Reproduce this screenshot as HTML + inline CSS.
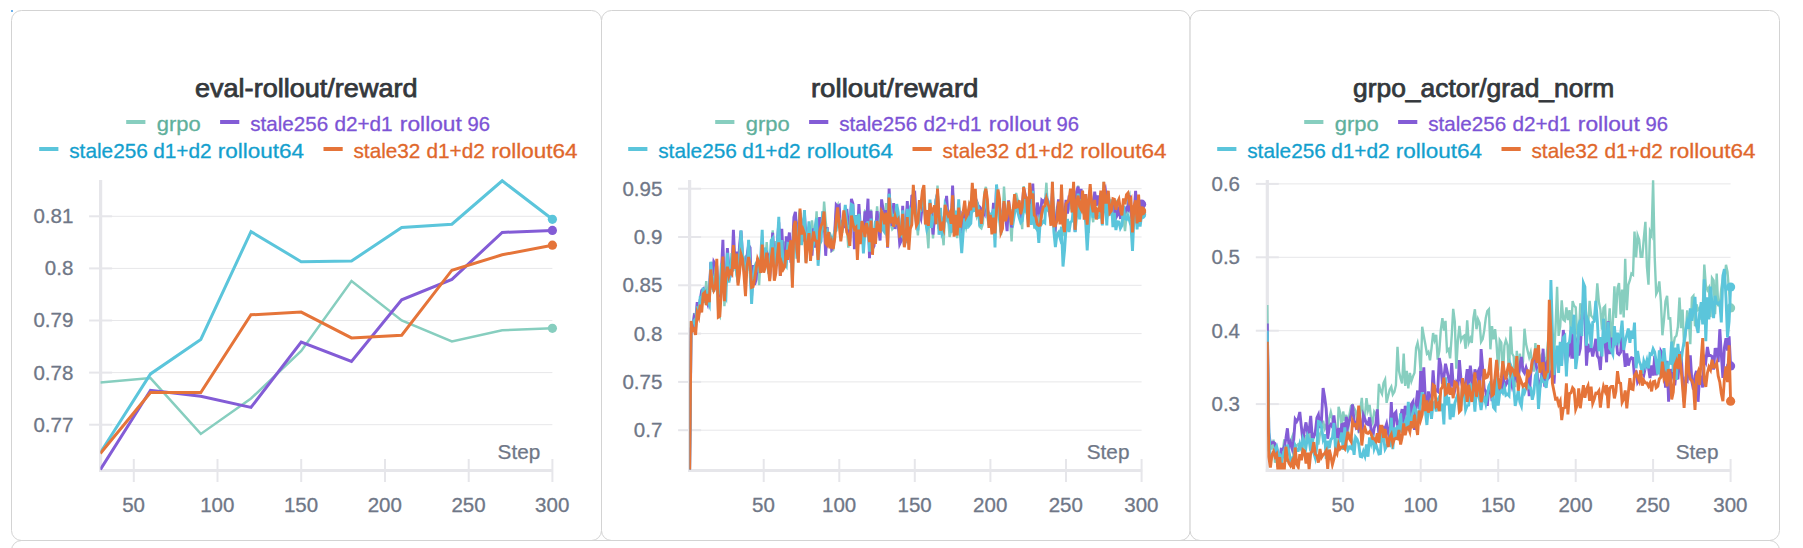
<!DOCTYPE html>
<html lang="en"><head><meta charset="utf-8"><title>Charts</title>
<style>html,body{margin:0;padding:0;background:#fff;}body{width:1803px;height:548px;overflow:hidden;}svg{display:block;}.tt{font:24.9px "Liberation Sans", sans-serif;fill:#34383c;stroke:#34383c;stroke-width:0.75px;}.lg{font:20.8px "Liberation Sans", sans-serif;stroke-width:0.3px;}.tk{font:20.5px "Liberation Sans", sans-serif;fill:#6f7787;stroke:#6f7787;stroke-width:0.3px;}.st{font:19.6px "Liberation Sans", sans-serif;fill:#6f7787;stroke:#6f7787;stroke-width:0.25px;}</style></head><body>
<svg width="1803" height="548" viewBox="0 0 1803 548">
<defs>
<clipPath id="c1"><rect x="100.4" y="170" width="470" height="300.6"/></clipPath>
<clipPath id="c2"><rect x="689.4" y="170" width="470" height="299.6"/></clipPath>
<clipPath id="c3"><rect x="1267.1" y="170" width="480" height="299.6"/></clipPath>
</defs>
<rect x="11.5" y="10.5" width="590.0" height="530" rx="10" ry="10" fill="#fff" stroke="#d3d3d3" stroke-width="1"/>
<rect x="601.5" y="10.5" width="588.6" height="530" rx="10" ry="10" fill="#fff" stroke="#d3d3d3" stroke-width="1"/>
<rect x="1190.1" y="10.5" width="589.4" height="530" rx="10" ry="10" fill="#fff" stroke="#d3d3d3" stroke-width="1"/>
<rect x="11.5" y="540.5" width="1768" height="60" rx="10" ry="10" fill="none" stroke="#d3d3d3" stroke-width="1"/>
<rect x="11" y="10" width="2" height="2" fill="#6cb0ea"/>
<text x="306.3" y="96.8" class="tt" text-anchor="middle" textLength="222.6" lengthAdjust="spacingAndGlyphs">eval-rollout/reward</text>
<rect x="126.2" y="120" width="19.2" height="4" fill="#87cebf"/>
<text y="131.2" class="lg" fill="#5fb09c" stroke="#5fb09c"><tspan x="156.8" textLength="44.0" lengthAdjust="spacingAndGlyphs">grpo</tspan></text>
<rect x="220.1" y="120" width="19.2" height="4" fill="#835cd6"/>
<text y="131.2" class="lg" fill="#7c53d5" stroke="#7c53d5"><tspan x="250.2" textLength="78.0" lengthAdjust="spacingAndGlyphs">stale256</tspan> <tspan x="334.4" textLength="58.2" lengthAdjust="spacingAndGlyphs">d2+d1</tspan> <tspan x="399.8" textLength="62.1" lengthAdjust="spacingAndGlyphs">rollout</tspan> <tspan x="467.6" textLength="22.5" lengthAdjust="spacingAndGlyphs">96</tspan></text>
<rect x="39.2" y="147" width="19.2" height="4" fill="#5bc5db"/>
<text y="157.9" class="lg" fill="#139fce" stroke="#139fce"><tspan x="69.2" textLength="78.7" lengthAdjust="spacingAndGlyphs">stale256</tspan> <tspan x="153.2" textLength="58.5" lengthAdjust="spacingAndGlyphs">d1+d2</tspan> <tspan x="217.8" textLength="86.3" lengthAdjust="spacingAndGlyphs">rollout64</tspan></text>
<rect x="323.5" y="147" width="19.2" height="4" fill="#e57439"/>
<text y="157.9" class="lg" fill="#e0672b" stroke="#e0672b"><tspan x="353.5" textLength="66.9" lengthAdjust="spacingAndGlyphs">stale32</tspan> <tspan x="426.5" textLength="58.3" lengthAdjust="spacingAndGlyphs">d1+d2</tspan> <tspan x="491.2" textLength="86.3" lengthAdjust="spacingAndGlyphs">rollout64</tspan></text>
<line x1="100.6" x2="552.4" y1="216.3" y2="216.3" stroke="#e7e7e9" stroke-width="1"/>
<line x1="100.6" x2="552.4" y1="268.4" y2="268.4" stroke="#e7e7e9" stroke-width="1"/>
<line x1="100.6" x2="552.4" y1="320.5" y2="320.5" stroke="#e7e7e9" stroke-width="1"/>
<line x1="100.6" x2="552.4" y1="372.6" y2="372.6" stroke="#e7e7e9" stroke-width="1"/>
<line x1="100.6" x2="552.4" y1="424.7" y2="424.7" stroke="#e7e7e9" stroke-width="1"/>
<line x1="89.1" x2="112.1" y1="216.3" y2="216.3" stroke="#e6e6ea" stroke-width="2"/>
<text x="73.3" y="223.2" class="tk" text-anchor="end">0.81</text>
<line x1="89.1" x2="112.1" y1="268.4" y2="268.4" stroke="#e6e6ea" stroke-width="2"/>
<text x="73.3" y="275.3" class="tk" text-anchor="end">0.8</text>
<line x1="89.1" x2="112.1" y1="320.5" y2="320.5" stroke="#e6e6ea" stroke-width="2"/>
<text x="73.3" y="327.4" class="tk" text-anchor="end">0.79</text>
<line x1="89.1" x2="112.1" y1="372.6" y2="372.6" stroke="#e6e6ea" stroke-width="2"/>
<text x="73.3" y="379.5" class="tk" text-anchor="end">0.78</text>
<line x1="89.1" x2="112.1" y1="424.7" y2="424.7" stroke="#e6e6ea" stroke-width="2"/>
<text x="73.3" y="431.6" class="tk" text-anchor="end">0.77</text>
<line x1="133.8" x2="133.8" y1="459" y2="482" stroke="#e6e6ea" stroke-width="2"/>
<text x="133.6" y="512.3" class="tk" text-anchor="middle">50</text>
<line x1="217.5" x2="217.5" y1="459" y2="482" stroke="#e6e6ea" stroke-width="2"/>
<text x="217.3" y="512.3" class="tk" text-anchor="middle">100</text>
<line x1="301.2" x2="301.2" y1="459" y2="482" stroke="#e6e6ea" stroke-width="2"/>
<text x="301.0" y="512.3" class="tk" text-anchor="middle">150</text>
<line x1="385.0" x2="385.0" y1="459" y2="482" stroke="#e6e6ea" stroke-width="2"/>
<text x="384.8" y="512.3" class="tk" text-anchor="middle">200</text>
<line x1="468.7" x2="468.7" y1="459" y2="482" stroke="#e6e6ea" stroke-width="2"/>
<text x="468.5" y="512.3" class="tk" text-anchor="middle">250</text>
<line x1="552.4" x2="552.4" y1="459" y2="482" stroke="#e6e6ea" stroke-width="2"/>
<text x="552.2" y="512.3" class="tk" text-anchor="middle">300</text>
<line x1="100.6" x2="100.6" y1="180" y2="472.0" stroke="#e6e6ea" stroke-width="3.2"/>
<line x1="99.0" x2="553.0" y1="470.5" y2="470.5" stroke="#e6e6ea" stroke-width="3.2"/>
<text x="497.6" y="458.5" class="st" textLength="42.6" lengthAdjust="spacingAndGlyphs">Step</text>
<polyline points="100.3,382.4 150.5,378.1 200.8,433.9 251,398.5 301.2,350.9 351.5,281 401.7,320.5 451.9,341.5 502.2,330.3 552.4,328.3" fill="none" stroke="#87cebf" stroke-width="2.5" stroke-linejoin="miter" stroke-miterlimit="5" clip-path="url(#c1)"/>
<circle cx="552.4" cy="328.3" r="4.6" fill="#87cebf"/>
<polyline points="100.3,469.7 150.5,390.3 200.8,396.2 251,407.4 301.2,342 351.5,361.4 401.7,299.8 451.9,279.4 502.2,232.4 552.4,230.4" fill="none" stroke="#835cd6" stroke-width="3.0" stroke-linejoin="miter" stroke-miterlimit="5" clip-path="url(#c1)"/>
<circle cx="552.4" cy="230.4" r="4.6" fill="#835cd6"/>
<polyline points="100.3,452.7 150.5,373.9 200.8,339.4 251,231.6 301.2,261.7 351.5,261 401.7,227.5 451.9,224.2 502.2,180.8 552.4,219.3" fill="none" stroke="#5bc5db" stroke-width="3.0" stroke-linejoin="miter" stroke-miterlimit="5" clip-path="url(#c1)"/>
<circle cx="552.4" cy="219.3" r="4.6" fill="#5bc5db"/>
<polyline points="100.3,453.6 150.5,392.6 200.8,392.6 251,314.8 301.2,312.1 351.5,337.9 401.7,335.2 451.9,270.2 502.2,254.8 552.4,245.2" fill="none" stroke="#e57439" stroke-width="3.0" stroke-linejoin="miter" stroke-miterlimit="5" clip-path="url(#c1)"/>
<circle cx="552.4" cy="245.2" r="4.6" fill="#e57439"/>
<text x="894.7" y="96.8" class="tt" text-anchor="middle" textLength="167.6" lengthAdjust="spacingAndGlyphs">rollout/reward</text>
<rect x="715.2" y="120" width="19.2" height="4" fill="#87cebf"/>
<text y="131.2" class="lg" fill="#5fb09c" stroke="#5fb09c"><tspan x="745.8" textLength="44.0" lengthAdjust="spacingAndGlyphs">grpo</tspan></text>
<rect x="809.1" y="120" width="19.2" height="4" fill="#835cd6"/>
<text y="131.2" class="lg" fill="#7c53d5" stroke="#7c53d5"><tspan x="839.2" textLength="78.0" lengthAdjust="spacingAndGlyphs">stale256</tspan> <tspan x="923.4" textLength="58.2" lengthAdjust="spacingAndGlyphs">d2+d1</tspan> <tspan x="988.8" textLength="62.1" lengthAdjust="spacingAndGlyphs">rollout</tspan> <tspan x="1056.6" textLength="22.5" lengthAdjust="spacingAndGlyphs">96</tspan></text>
<rect x="628.2" y="147" width="19.2" height="4" fill="#5bc5db"/>
<text y="157.9" class="lg" fill="#139fce" stroke="#139fce"><tspan x="658.2" textLength="78.7" lengthAdjust="spacingAndGlyphs">stale256</tspan> <tspan x="742.2" textLength="58.5" lengthAdjust="spacingAndGlyphs">d1+d2</tspan> <tspan x="806.8" textLength="86.3" lengthAdjust="spacingAndGlyphs">rollout64</tspan></text>
<rect x="912.5" y="147" width="19.2" height="4" fill="#e57439"/>
<text y="157.9" class="lg" fill="#e0672b" stroke="#e0672b"><tspan x="942.5" textLength="66.9" lengthAdjust="spacingAndGlyphs">stale32</tspan> <tspan x="1015.5" textLength="58.3" lengthAdjust="spacingAndGlyphs">d1+d2</tspan> <tspan x="1080.2" textLength="86.3" lengthAdjust="spacingAndGlyphs">rollout64</tspan></text>
<line x1="689.6" x2="1141.6" y1="188.7" y2="188.7" stroke="#e7e7e9" stroke-width="1"/>
<line x1="689.6" x2="1141.6" y1="237.0" y2="237.0" stroke="#e7e7e9" stroke-width="1"/>
<line x1="689.6" x2="1141.6" y1="285.3" y2="285.3" stroke="#e7e7e9" stroke-width="1"/>
<line x1="689.6" x2="1141.6" y1="333.6" y2="333.6" stroke="#e7e7e9" stroke-width="1"/>
<line x1="689.6" x2="1141.6" y1="381.9" y2="381.9" stroke="#e7e7e9" stroke-width="1"/>
<line x1="689.6" x2="1141.6" y1="430.2" y2="430.2" stroke="#e7e7e9" stroke-width="1"/>
<line x1="678.1" x2="701.1" y1="188.7" y2="188.7" stroke="#e6e6ea" stroke-width="2"/>
<text x="662.3" y="195.6" class="tk" text-anchor="end">0.95</text>
<line x1="678.1" x2="701.1" y1="237.0" y2="237.0" stroke="#e6e6ea" stroke-width="2"/>
<text x="662.3" y="243.9" class="tk" text-anchor="end">0.9</text>
<line x1="678.1" x2="701.1" y1="285.3" y2="285.3" stroke="#e6e6ea" stroke-width="2"/>
<text x="662.3" y="292.2" class="tk" text-anchor="end">0.85</text>
<line x1="678.1" x2="701.1" y1="333.6" y2="333.6" stroke="#e6e6ea" stroke-width="2"/>
<text x="662.3" y="340.5" class="tk" text-anchor="end">0.8</text>
<line x1="678.1" x2="701.1" y1="381.9" y2="381.9" stroke="#e6e6ea" stroke-width="2"/>
<text x="662.3" y="388.8" class="tk" text-anchor="end">0.75</text>
<line x1="678.1" x2="701.1" y1="430.2" y2="430.2" stroke="#e6e6ea" stroke-width="2"/>
<text x="662.3" y="437.1" class="tk" text-anchor="end">0.7</text>
<line x1="763.7" x2="763.7" y1="459" y2="482" stroke="#e6e6ea" stroke-width="2"/>
<text x="763.5" y="512.3" class="tk" text-anchor="middle">50</text>
<line x1="839.3" x2="839.3" y1="459" y2="482" stroke="#e6e6ea" stroke-width="2"/>
<text x="839.1" y="512.3" class="tk" text-anchor="middle">100</text>
<line x1="914.8" x2="914.8" y1="459" y2="482" stroke="#e6e6ea" stroke-width="2"/>
<text x="914.6" y="512.3" class="tk" text-anchor="middle">150</text>
<line x1="990.4" x2="990.4" y1="459" y2="482" stroke="#e6e6ea" stroke-width="2"/>
<text x="990.2" y="512.3" class="tk" text-anchor="middle">200</text>
<line x1="1066.0" x2="1066.0" y1="459" y2="482" stroke="#e6e6ea" stroke-width="2"/>
<text x="1065.8" y="512.3" class="tk" text-anchor="middle">250</text>
<line x1="1141.6" x2="1141.6" y1="459" y2="482" stroke="#e6e6ea" stroke-width="2"/>
<text x="1141.4" y="512.3" class="tk" text-anchor="middle">300</text>
<line x1="689.6" x2="689.6" y1="180" y2="472.0" stroke="#e6e6ea" stroke-width="3.2"/>
<line x1="688.0" x2="1142.2" y1="470.5" y2="470.5" stroke="#e6e6ea" stroke-width="3.2"/>
<text x="1086.8" y="458.5" class="st" textLength="42.6" lengthAdjust="spacingAndGlyphs">Step</text>
<polyline points="689.6,473.7 691.1,329.5 692.6,329.2 694.1,313.1 695.6,322.6 697.2,315.1 698.7,316.8 700.2,298.3 701.7,295.9 703.2,294.4 704.7,302.6 706.2,281 707.7,296.1 709.3,288.2 710.8,263 712.3,289.8 713.8,284.2 715.3,261.8 716.8,277.5 718.3,314.7 719.8,316.8 721.3,271.6 722.9,248.8 724.4,306.1 725.9,285 727.4,267.3 728.9,271.5 730.4,262.8 731.9,271 733.4,270.2 735,256.8 736.5,274.8 738,281.2 739.5,268.1 741,239 742.5,261 744,264 745.5,256.8 747,255.5 748.6,247.5 750.1,277.9 751.6,292.6 753.1,266.6 754.6,278.7 756.1,271.5 757.6,257.9 759.1,285.3 760.6,258.5 762.2,250 763.7,251.5 765.2,264.1 766.7,242.2 768.2,264.6 769.7,265.9 771.2,255.5 772.7,230.3 774.3,275.2 775.8,241.1 777.3,248.2 778.8,227.1 780.3,274.8 781.8,241 783.3,260 784.8,241.6 786.3,246.9 787.9,242.4 789.4,239.6 790.9,249.3 792.4,261.1 793.9,227.1 795.4,226.8 796.9,250.8 798.4,249 800,216.7 801.5,218.5 803,226.6 804.5,217 806,243.2 807.5,243 809,235.1 810.5,245.3 812,220.3 813.6,236.9 815.1,235.6 816.6,211.4 818.1,251.7 819.6,228.3 821.1,222.7 822.6,232.1 824.1,201.6 825.7,221.3 827.2,234.7 828.7,241.6 830.2,238 831.7,250.9 833.2,250 834.7,232.5 836.2,209 837.7,205.5 839.3,226.5 840.8,219.9 842.3,232.9 843.8,213.4 845.3,213.5 846.8,227.4 848.3,247.6 849.8,240.5 851.4,200.1 852.9,211.5 854.4,225.6 855.9,227.5 857.4,237.2 858.9,219.4 860.4,235 861.9,242.9 863.4,226.7 865,211.2 866.5,212.3 868,227 869.5,250.7 871,209.6 872.5,230.8 874,237.3 875.5,230.4 877.1,206.3 878.6,226.5 880.1,215.5 881.6,218.5 883.1,227.7 884.6,218.8 886.1,203.2 887.6,226.5 889.1,197 890.7,224 892.2,229.3 893.7,227.5 895.2,225.4 896.7,210 898.2,220.7 899.7,225.2 901.2,233 902.7,212.8 904.3,236.3 905.8,227.7 907.3,202.4 908.8,240.8 910.3,217.4 911.8,220.4 913.3,186.2 914.8,195.8 916.4,220.2 917.9,235.4 919.4,215.4 920.9,205.8 922.4,201.8 923.9,186.8 925.4,217.8 926.9,229.4 928.4,248.3 930,204.3 931.5,209.2 933,238.5 934.5,215.6 936,221.1 937.5,185.6 939,218.1 940.5,216.9 942.1,230.3 943.6,245.3 945.1,210.5 946.6,220 948.1,217.9 949.6,237 951.1,231.3 952.6,189.2 954.1,211.5 955.7,230.1 957.2,238.1 958.7,203.6 960.2,216 961.7,244.3 963.2,219.6 964.7,220.5 966.2,227.8 967.8,221.1 969.3,204.2 970.8,207.1 972.3,188.3 973.8,209.2 975.3,206.1 976.8,216 978.3,211.2 979.8,226.9 981.4,228.4 982.9,223.6 984.4,192.2 985.9,186.8 987.4,205.6 988.9,222.9 990.4,216.6 991.9,217.1 993.5,207.6 995,240 996.5,210.4 998,210.5 999.5,209.4 1001,235.1 1002.5,220.9 1004,186.5 1005.5,210.7 1007.1,218.5 1008.6,202.6 1010.1,219.4 1011.6,241.4 1013.1,208.1 1014.6,208.3 1016.1,192.9 1017.6,199.4 1019.2,201.5 1020.7,213.9 1022.2,229.2 1023.7,186 1025.2,211.2 1026.7,210.1 1028.2,226.6 1029.7,194.1 1031.2,203.1 1032.8,187.3 1034.3,228.7 1035.8,217.5 1037.3,231.3 1038.8,219 1040.3,210.5 1041.8,215.8 1043.3,209.7 1044.8,205.9 1046.4,182.7 1047.9,211.1 1049.4,211.5 1050.9,224.1 1052.4,181.9 1053.9,210.3 1055.4,234.1 1056.9,207.2 1058.5,205.5 1060,218.4 1061.5,197.3 1063,230.2 1064.5,235.9 1066,215.8 1067.5,201.3 1069,208.4 1070.5,202.9 1072.1,213 1073.6,194 1075.1,222.9 1076.6,208.4 1078.1,185.6 1079.6,205.2 1081.1,206.1 1082.6,200.8 1084.2,215 1085.7,219.6 1087.2,224.5 1088.7,233 1090.2,198.8 1091.7,212.8 1093.2,222.2 1094.7,203.2 1096.2,197.6 1097.8,201.7 1099.3,210 1100.8,205.7 1102.3,215.1 1103.8,181.9 1105.3,203.4 1106.8,219.2 1108.3,209.6 1109.9,214.8 1111.4,214.3 1112.9,204.1 1114.4,207.1 1115.9,213.1 1117.4,199.9 1118.9,207.3 1120.4,208.7 1121.9,207.5 1123.5,217 1125,231.1 1126.5,215.7 1128,198.6 1129.5,195.2 1131,218.5 1132.5,221 1134,209.2 1135.6,207 1137.1,219.8 1138.6,201.6 1140.1,223.5 1141.6,212.8" fill="none" stroke="#87cebf" stroke-width="2.4" stroke-linejoin="miter" stroke-miterlimit="5" clip-path="url(#c2)"/>
<circle cx="1141.6" cy="212.8" r="4.6" fill="#87cebf"/>
<polyline points="689.6,473.7 691.1,328.6 692.6,328 694.1,317.4 695.6,320.5 697.2,302.1 698.7,314.3 700.2,300 701.7,290.5 703.2,289 704.7,300.5 706.2,299.2 707.7,303.8 709.3,294.7 710.8,262.3 712.3,275.8 713.8,261.7 715.3,264.4 716.8,266.3 718.3,292.1 719.8,297.2 721.3,275.7 722.9,239.8 724.4,299.8 725.9,284 727.4,248.1 728.9,268.3 730.4,275.7 731.9,271.3 733.4,229.7 735,263.5 736.5,251.5 738,271 739.5,246.4 741,230.8 742.5,255.7 744,268.1 745.5,277.2 747,256 748.6,245.2 750.1,247.6 751.6,296.1 753.1,265.1 754.6,284.9 756.1,279.4 757.6,258.8 759.1,272.1 760.6,265.7 762.2,261.5 763.7,253.6 765.2,259.4 766.7,252.6 768.2,255.4 769.7,278.5 771.2,261.2 772.7,232.7 774.3,267.5 775.8,259 777.3,243.5 778.8,222.4 780.3,275.9 781.8,228.8 783.3,259.4 784.8,266.1 786.3,236.3 787.9,244 789.4,232.5 790.9,262.8 792.4,250.5 793.9,217.2 795.4,211.8 796.9,232.6 798.4,229.9 800,212.9 801.5,229.2 803,241.5 804.5,213.8 806,238.7 807.5,244.3 809,232.9 810.5,243.2 812,255.6 813.6,228.4 815.1,247.7 816.6,224.9 818.1,241.7 819.6,217.1 821.1,232.7 822.6,215.3 824.1,220 825.7,255.8 827.2,227.2 828.7,246.2 830.2,236.1 831.7,249.2 833.2,247 834.7,232.8 836.2,205 837.7,206.8 839.3,205.5 840.8,233.2 842.3,226.2 843.8,218.5 845.3,228.1 846.8,209 848.3,223.9 849.8,241.5 851.4,198.9 852.9,203.6 854.4,249.2 855.9,215.1 857.4,237 858.9,204.1 860.4,227.7 861.9,225.3 863.4,236.1 865,211.3 866.5,222.5 868,198.7 869.5,258.2 871,210.7 872.5,248.9 874,246.1 875.5,230.8 877.1,211 878.6,229 880.1,240.5 881.6,199.4 883.1,209.3 884.6,228.1 886.1,210 887.6,247.7 889.1,188.5 890.7,217.8 892.2,225.7 893.7,203 895.2,229 896.7,212.2 898.2,224.4 899.7,244 901.2,240.6 902.7,205.7 904.3,245.3 905.8,233.4 907.3,201.1 908.8,236.1 910.3,223.6 911.8,195.9 913.3,195.3 914.8,193.7 916.4,224.6 917.9,216.3 919.4,214.1 920.9,218.4 922.4,204.4 923.9,204.1 925.4,215.4 926.9,225.5 928.4,224.3 930,202.5 931.5,213.4 933,234.5 934.5,217.8 936,200.1 937.5,193.8 939,227.1 940.5,226.7 942.1,226.8 943.6,219.1 945.1,212.8 946.6,195.8 948.1,218.5 949.6,216.1 951.1,227 952.6,185.6 954.1,221.5 955.7,230.4 957.2,217.7 958.7,211.3 960.2,211.9 961.7,233.1 963.2,216.9 964.7,211.6 966.2,220.2 967.8,220 969.3,211.3 970.8,203.6 972.3,201.3 973.8,207 975.3,207.1 976.8,201.7 978.3,205.9 979.8,207.1 981.4,209.6 982.9,210.1 984.4,213.2 985.9,191.4 987.4,209.4 988.9,215.6 990.4,220.8 991.9,225 993.5,202.8 995,221 996.5,186.7 998,208.7 999.5,206.1 1001,224.9 1002.5,214.8 1004,203.2 1005.5,215.4 1007.1,231.1 1008.6,200.4 1010.1,212.9 1011.6,227.4 1013.1,218.4 1014.6,201.9 1016.1,207.7 1017.6,207.3 1019.2,207.3 1020.7,219.3 1022.2,207.4 1023.7,188.2 1025.2,194.6 1026.7,202.4 1028.2,219 1029.7,196 1031.2,213.9 1032.8,183.6 1034.3,218.1 1035.8,223 1037.3,202.5 1038.8,210.9 1040.3,217.2 1041.8,200.3 1043.3,201.8 1044.8,200 1046.4,197.3 1047.9,201.2 1049.4,210.9 1050.9,220.7 1052.4,193.1 1053.9,222.9 1055.4,227 1056.9,212.8 1058.5,199.3 1060,216.4 1061.5,198.2 1063,224.1 1064.5,218.7 1066,199.8 1067.5,213.7 1069,196.8 1070.5,196.7 1072.1,199.4 1073.6,202.7 1075.1,231.6 1076.6,191.8 1078.1,186.6 1079.6,201.2 1081.1,188.8 1082.6,203.7 1084.2,201.6 1085.7,194.2 1087.2,222.9 1088.7,213.2 1090.2,190.1 1091.7,205.8 1093.2,209.3 1094.7,191.6 1096.2,205.7 1097.8,195.6 1099.3,204.4 1100.8,193.1 1102.3,205.4 1103.8,192.9 1105.3,189.2 1106.8,201.4 1108.3,206.1 1109.9,206.3 1111.4,212.7 1112.9,212.5 1114.4,205.1 1115.9,217.9 1117.4,214.8 1118.9,206.8 1120.4,217.6 1121.9,217.4 1123.5,211.2 1125,212.5 1126.5,208 1128,209.7 1129.5,195.3 1131,211.2 1132.5,219.9 1134,213.6 1135.6,190.9 1137.1,216.8 1138.6,204.2 1140.1,204.1 1141.6,204.2" fill="none" stroke="#835cd6" stroke-width="2.9" stroke-linejoin="miter" stroke-miterlimit="5" clip-path="url(#c2)"/>
<circle cx="1141.6" cy="204.2" r="4.6" fill="#835cd6"/>
<polyline points="689.6,473.7 691.1,323 692.6,322.7 694.1,320.8 695.6,327.8 697.2,306.3 698.7,312.3 700.2,297.5 701.7,297.5 703.2,287.8 704.7,297.9 706.2,293.4 707.7,301 709.3,304.9 710.8,261.7 712.3,280.9 713.8,291.9 715.3,274.3 716.8,273 718.3,294.4 719.8,289.2 721.3,265.1 722.9,265.5 724.4,294.4 725.9,297.6 727.4,252.7 728.9,282.6 730.4,273.3 731.9,253.2 733.4,268.1 735,261.3 736.5,269.6 738,282.6 739.5,259.7 741,230.3 742.5,254.4 744,260.6 745.5,269.8 747,269.7 748.6,239.9 750.1,265.5 751.6,304 753.1,277.4 754.6,267.2 756.1,263.2 757.6,263.6 759.1,272.5 760.6,259.5 762.2,229.9 763.7,268.9 765.2,247.5 766.7,255.6 768.2,269.6 769.7,266.5 771.2,240.5 772.7,238.3 774.3,266 775.8,249.2 777.3,244.5 778.8,216.9 780.3,262 781.8,240.2 783.3,268.3 784.8,262.8 786.3,265.5 787.9,243.5 789.4,244 790.9,246.6 792.4,281.4 793.9,233.5 795.4,226.4 796.9,258.6 798.4,236.2 800,210.3 801.5,245.2 803,231.4 804.5,210.1 806,262.2 807.5,239.9 809,221.4 810.5,234.5 812,249.8 813.6,243.9 815.1,227 816.6,218 818.1,265.8 819.6,244.3 821.1,241.1 822.6,211.2 824.1,226.9 825.7,232.1 827.2,230.2 828.7,237.6 830.2,235.2 831.7,239.7 833.2,238.2 834.7,231.4 836.2,230.5 837.7,216.7 839.3,218.7 840.8,230.6 842.3,229.3 843.8,218.1 845.3,204.8 846.8,225.2 848.3,227.6 849.8,228.4 851.4,204.5 852.9,205.4 854.4,231.4 855.9,215.2 857.4,249.2 858.9,213.8 860.4,226.9 861.9,224.8 863.4,253.3 865,230.4 866.5,231.3 868,221.2 869.5,251.6 871,218.5 872.5,240.5 874,241.5 875.5,220.8 877.1,227.4 878.6,227.4 880.1,219.3 881.6,210.1 883.1,229.9 884.6,232.2 886.1,219.8 887.6,232.5 889.1,193.7 890.7,208.1 892.2,217.3 893.7,215.7 895.2,220.2 896.7,204.1 898.2,212.1 899.7,233 901.2,235 902.7,210.4 904.3,243.3 905.8,241.9 907.3,208.9 908.8,241.3 910.3,211 911.8,214.7 913.3,197.8 914.8,205.4 916.4,222.6 917.9,230.3 919.4,211.7 920.9,210.6 922.4,197.2 923.9,200.6 925.4,219.9 926.9,229.7 928.4,226.1 930,199.5 931.5,227.9 933,218 934.5,215.4 936,200.2 937.5,193.4 939,234.8 940.5,207.8 942.1,233.7 943.6,230.9 945.1,204.8 946.6,208.9 948.1,220.5 949.6,224.8 951.1,232.7 952.6,198.5 954.1,232.8 955.7,210.6 957.2,224.6 958.7,199.4 960.2,232.4 961.7,253.2 963.2,232.1 964.7,218.3 966.2,228.9 967.8,213.2 969.3,225.4 970.8,223.4 972.3,202 973.8,211.8 975.3,199.9 976.8,202.2 978.3,207.6 979.8,226.5 981.4,221.7 982.9,213 984.4,205.2 985.9,191.1 987.4,215 988.9,225.2 990.4,212.6 991.9,222.4 993.5,208.9 995,247.5 996.5,184.5 998,200.2 999.5,219.9 1001,232.3 1002.5,212.2 1004,209 1005.5,216.3 1007.1,211.4 1008.6,207.8 1010.1,209.9 1011.6,218.6 1013.1,222.8 1014.6,213.2 1016.1,198.3 1017.6,211.3 1019.2,217.7 1020.7,222.6 1022.2,220.8 1023.7,209.1 1025.2,199.1 1026.7,212.7 1028.2,217 1029.7,203.9 1031.2,224.9 1032.8,190.8 1034.3,225.2 1035.8,227.6 1037.3,222.6 1038.8,243 1040.3,219.8 1041.8,223.6 1043.3,221.4 1044.8,222.7 1046.4,193.3 1047.9,210.5 1049.4,205.8 1050.9,215.4 1052.4,200.6 1053.9,231.8 1055.4,247.2 1056.9,234.7 1058.5,232.5 1060,237.7 1061.5,226.8 1063,266.5 1064.5,250.9 1066,228.3 1067.5,219 1069,232.1 1070.5,222.5 1072.1,220.8 1073.6,204.9 1075.1,232.2 1076.6,215.7 1078.1,193.5 1079.6,219.5 1081.1,200.5 1082.6,200.5 1084.2,210.8 1085.7,222.8 1087.2,250.5 1088.7,223.9 1090.2,205.1 1091.7,207.4 1093.2,217.8 1094.7,212.1 1096.2,214.5 1097.8,217.9 1099.3,217.2 1100.8,207.3 1102.3,225.3 1103.8,203.2 1105.3,198.3 1106.8,225.5 1108.3,194.8 1109.9,205 1111.4,199.5 1112.9,227.1 1114.4,212.9 1115.9,230 1117.4,221.8 1118.9,222.1 1120.4,228.2 1121.9,225.5 1123.5,205.6 1125,218.7 1126.5,219.5 1128,215.8 1129.5,220.5 1131,225.9 1132.5,250.9 1134,215.9 1135.6,207.3 1137.1,229.5 1138.6,204.2 1140.1,226.5 1141.6,214.8" fill="none" stroke="#5bc5db" stroke-width="2.9" stroke-linejoin="miter" stroke-miterlimit="5" clip-path="url(#c2)"/>
<circle cx="1141.6" cy="214.8" r="4.6" fill="#5bc5db"/>
<polyline points="689.6,473.7 691.1,320.9 692.6,330.7 694.1,329.1 695.6,334.8 697.2,312.9 698.7,317 700.2,304.7 701.7,312.4 703.2,293.8 704.7,292.3 706.2,305.2 707.7,293.9 709.3,302.1 710.8,269.5 712.3,284.4 713.8,290.5 715.3,287.7 716.8,258.7 718.3,317.1 719.8,316.1 721.3,290.4 722.9,256.5 724.4,301.1 725.9,275.9 727.4,266.7 728.9,276 730.4,271.5 731.9,273.8 733.4,245.1 735,268.9 736.5,253.5 738,285.5 739.5,273.6 741,254.2 742.5,258.6 744,275 745.5,296.1 747,266.3 748.6,257 750.1,265.1 751.6,287.3 753.1,286.7 754.6,279 756.1,269.3 757.6,258.8 759.1,262.4 760.6,273 762.2,244.6 763.7,272.6 765.2,267.4 766.7,252.6 768.2,266.8 769.7,281.2 771.2,258.5 772.7,247.5 774.3,280.8 775.8,273.5 777.3,256.8 778.8,242.3 780.3,275.7 781.8,264 783.3,269.2 784.8,266.5 786.3,249.9 787.9,259.8 789.4,247.4 790.9,240.4 792.4,287.6 793.9,226.4 795.4,221 796.9,249 798.4,262.6 800,208.6 801.5,234.4 803,229.4 804.5,233.6 806,263.3 807.5,243.7 809,233.2 810.5,260.8 812,243 813.6,231.4 815.1,240.3 816.6,241.2 818.1,259.9 819.6,231.5 821.1,225.9 822.6,222.7 824.1,211.5 825.7,243.3 827.2,245.2 828.7,232 830.2,248.3 831.7,242 833.2,249 834.7,239 836.2,219.6 837.7,207.5 839.3,225.4 840.8,241.4 842.3,229.7 843.8,210.4 845.3,219.8 846.8,232.3 848.3,235.5 849.8,245.9 851.4,215.6 852.9,223.7 854.4,229.1 855.9,227.5 857.4,260 858.9,229.6 860.4,244.2 861.9,221 863.4,226.8 865,237 866.5,223.1 868,230.4 869.5,242.1 871,220.5 872.5,254.8 874,228 875.5,243.8 877.1,221 878.6,230.2 880.1,231.1 881.6,211.6 883.1,214.6 884.6,224.3 886.1,212.7 887.6,246.9 889.1,197.6 890.7,223.2 892.2,217 893.7,226.8 895.2,216.5 896.7,221.9 898.2,219.5 899.7,235.3 901.2,233.7 902.7,213.8 904.3,247.2 905.8,238.7 907.3,217.1 908.8,249.8 910.3,228.8 911.8,224.6 913.3,184.9 914.8,209.6 916.4,225.5 917.9,222.6 919.4,200.2 920.9,205 922.4,190.7 923.9,185 925.4,224.5 926.9,210.2 928.4,225.8 930,203.2 931.5,212.1 933,211 934.5,205.3 936,224.3 937.5,188.6 939,214.4 940.5,230.7 942.1,225 943.6,229.1 945.1,204.9 946.6,212.1 948.1,215.6 949.6,212.8 951.1,223.7 952.6,195.3 954.1,236.6 955.7,214.9 957.2,235.4 958.7,207.5 960.2,227.4 961.7,218.2 963.2,212 964.7,200.6 966.2,217.1 967.8,214.1 969.3,205.5 970.8,210.2 972.3,182.8 973.8,207.3 975.3,188.9 976.8,215.4 978.3,215.1 979.8,209.6 981.4,223.8 982.9,212.1 984.4,195.8 985.9,188.6 987.4,199.5 988.9,227.9 990.4,214.8 991.9,234.4 993.5,217.6 995,233.4 996.5,210.8 998,189.6 999.5,198.9 1001,232.5 1002.5,228.8 1004,201 1005.5,221.1 1007.1,216 1008.6,201.4 1010.1,212.9 1011.6,224.8 1013.1,210 1014.6,194.1 1016.1,207.3 1017.6,206.8 1019.2,200.4 1020.7,214.1 1022.2,207.3 1023.7,187.2 1025.2,197.2 1026.7,197.7 1028.2,227.1 1029.7,182.9 1031.2,198.7 1032.8,193.5 1034.3,215.1 1035.8,216.9 1037.3,224.1 1038.8,225.4 1040.3,225.1 1041.8,213.2 1043.3,206.9 1044.8,205.9 1046.4,198.4 1047.9,203.9 1049.4,207.7 1050.9,225.8 1052.4,181.9 1053.9,225.8 1055.4,225.6 1056.9,220.7 1058.5,201.7 1060,224.5 1061.5,184.6 1063,223.9 1064.5,232.1 1066,203.7 1067.5,201.8 1069,199.8 1070.5,188.7 1072.1,212.4 1073.6,181.9 1075.1,229.8 1076.6,202 1078.1,195.7 1079.6,206.6 1081.1,209.4 1082.6,190.5 1084.2,219.6 1085.7,194.3 1087.2,224.6 1088.7,201.6 1090.2,184 1091.7,204.6 1093.2,212.3 1094.7,199.8 1096.2,219.4 1097.8,209.3 1099.3,210.2 1100.8,190.6 1102.3,223.9 1103.8,181.9 1105.3,202.4 1106.8,202.4 1108.3,190.8 1109.9,212.7 1111.4,210.6 1112.9,198.7 1114.4,199.3 1115.9,209.7 1117.4,202.4 1118.9,199.2 1120.4,209.1 1121.9,215.4 1123.5,198.4 1125,204.3 1126.5,194.6 1128,192.9 1129.5,201.9 1131,199.2 1132.5,232.4 1134,206.6 1135.6,200.4 1137.1,223.3 1138.6,194.7 1140.1,221.9 1141.6,210.9" fill="none" stroke="#e57439" stroke-width="2.9" stroke-linejoin="miter" stroke-miterlimit="5" clip-path="url(#c2)"/>
<circle cx="1141.6" cy="210.9" r="4.6" fill="#e57439"/>
<text x="1483.6" y="96.8" class="tt" text-anchor="middle" textLength="261.2" lengthAdjust="spacingAndGlyphs">grpo_actor/grad_norm</text>
<rect x="1304.2" y="120" width="19.2" height="4" fill="#87cebf"/>
<text y="131.2" class="lg" fill="#5fb09c" stroke="#5fb09c"><tspan x="1334.8" textLength="44.0" lengthAdjust="spacingAndGlyphs">grpo</tspan></text>
<rect x="1398.1" y="120" width="19.2" height="4" fill="#835cd6"/>
<text y="131.2" class="lg" fill="#7c53d5" stroke="#7c53d5"><tspan x="1428.2" textLength="78.0" lengthAdjust="spacingAndGlyphs">stale256</tspan> <tspan x="1512.4" textLength="58.2" lengthAdjust="spacingAndGlyphs">d2+d1</tspan> <tspan x="1577.8" textLength="62.1" lengthAdjust="spacingAndGlyphs">rollout</tspan> <tspan x="1645.6" textLength="22.5" lengthAdjust="spacingAndGlyphs">96</tspan></text>
<rect x="1217.2" y="147" width="19.2" height="4" fill="#5bc5db"/>
<text y="157.9" class="lg" fill="#139fce" stroke="#139fce"><tspan x="1247.2" textLength="78.7" lengthAdjust="spacingAndGlyphs">stale256</tspan> <tspan x="1331.2" textLength="58.5" lengthAdjust="spacingAndGlyphs">d1+d2</tspan> <tspan x="1395.8" textLength="86.3" lengthAdjust="spacingAndGlyphs">rollout64</tspan></text>
<rect x="1501.5" y="147" width="19.2" height="4" fill="#e57439"/>
<text y="157.9" class="lg" fill="#e0672b" stroke="#e0672b"><tspan x="1531.5" textLength="66.9" lengthAdjust="spacingAndGlyphs">stale32</tspan> <tspan x="1604.5" textLength="58.3" lengthAdjust="spacingAndGlyphs">d1+d2</tspan> <tspan x="1669.2" textLength="86.3" lengthAdjust="spacingAndGlyphs">rollout64</tspan></text>
<line x1="1267.3" x2="1730.6" y1="183.9" y2="183.9" stroke="#e7e7e9" stroke-width="1"/>
<line x1="1267.3" x2="1730.6" y1="257.3" y2="257.3" stroke="#e7e7e9" stroke-width="1"/>
<line x1="1267.3" x2="1730.6" y1="330.7" y2="330.7" stroke="#e7e7e9" stroke-width="1"/>
<line x1="1267.3" x2="1730.6" y1="404.1" y2="404.1" stroke="#e7e7e9" stroke-width="1"/>
<line x1="1255.8" x2="1278.8" y1="183.9" y2="183.9" stroke="#e6e6ea" stroke-width="2"/>
<text x="1240.0" y="190.8" class="tk" text-anchor="end">0.6</text>
<line x1="1255.8" x2="1278.8" y1="257.3" y2="257.3" stroke="#e6e6ea" stroke-width="2"/>
<text x="1240.0" y="264.2" class="tk" text-anchor="end">0.5</text>
<line x1="1255.8" x2="1278.8" y1="330.7" y2="330.7" stroke="#e6e6ea" stroke-width="2"/>
<text x="1240.0" y="337.6" class="tk" text-anchor="end">0.4</text>
<line x1="1255.8" x2="1278.8" y1="404.1" y2="404.1" stroke="#e6e6ea" stroke-width="2"/>
<text x="1240.0" y="411.0" class="tk" text-anchor="end">0.3</text>
<line x1="1343.2" x2="1343.2" y1="459" y2="482" stroke="#e6e6ea" stroke-width="2"/>
<text x="1343.0" y="512.3" class="tk" text-anchor="middle">50</text>
<line x1="1420.7" x2="1420.7" y1="459" y2="482" stroke="#e6e6ea" stroke-width="2"/>
<text x="1420.5" y="512.3" class="tk" text-anchor="middle">100</text>
<line x1="1498.2" x2="1498.2" y1="459" y2="482" stroke="#e6e6ea" stroke-width="2"/>
<text x="1498.0" y="512.3" class="tk" text-anchor="middle">150</text>
<line x1="1575.7" x2="1575.7" y1="459" y2="482" stroke="#e6e6ea" stroke-width="2"/>
<text x="1575.5" y="512.3" class="tk" text-anchor="middle">200</text>
<line x1="1653.1" x2="1653.1" y1="459" y2="482" stroke="#e6e6ea" stroke-width="2"/>
<text x="1652.9" y="512.3" class="tk" text-anchor="middle">250</text>
<line x1="1730.6" x2="1730.6" y1="459" y2="482" stroke="#e6e6ea" stroke-width="2"/>
<text x="1730.4" y="512.3" class="tk" text-anchor="middle">300</text>
<line x1="1267.3" x2="1267.3" y1="180" y2="472.0" stroke="#e6e6ea" stroke-width="3.2"/>
<line x1="1265.7" x2="1731.2" y1="470.5" y2="470.5" stroke="#e6e6ea" stroke-width="3.2"/>
<text x="1675.8" y="458.5" class="st" textLength="42.6" lengthAdjust="spacingAndGlyphs">Step</text>
<polyline points="1267.3,305 1268.8,446 1270.4,442.3 1271.9,449.6 1273.5,439.7 1275,462.7 1276.6,453.4 1278.1,455.9 1279.7,455.2 1281.2,453.8 1282.8,451.1 1284.3,439.4 1285.9,459.1 1287.4,454.8 1289,450.3 1290.5,441.7 1292.1,437.3 1293.6,457.4 1295.2,444.6 1296.7,445.9 1298.3,444 1299.8,444.2 1301.4,449.7 1302.9,443.3 1304.5,456.3 1306,435.8 1307.6,435.3 1309.1,426.1 1310.7,447.8 1312.2,446.9 1313.8,435.9 1315.3,433.7 1316.9,435.5 1318.4,444.6 1320,433.8 1321.5,431 1323.1,420.7 1324.6,428.7 1326.2,425.1 1327.7,435.2 1329.3,418.2 1330.8,412.2 1332.4,419.2 1333.9,429.8 1335.5,435.4 1337,444.3 1338.6,406.7 1340.1,412.6 1341.7,426.2 1343.2,411.5 1344.8,421.1 1346.3,414.8 1347.9,433.9 1349.4,414.8 1351,405.9 1352.5,405 1354.1,408 1355.6,410.9 1357.2,420.2 1358.7,433 1360.3,410.1 1361.8,397.9 1363.4,420.1 1364.9,416 1366.5,398.2 1368,410.4 1369.6,404.9 1371.1,418.3 1372.7,422.6 1374.2,411.6 1375.8,414.1 1377.3,418.9 1378.9,383.9 1380.4,390.5 1382,393.9 1383.5,383 1385.1,379.5 1386.6,402.8 1388.2,395.7 1389.7,389.7 1391.3,386.7 1392.8,394.4 1394.4,391.8 1395.9,385.2 1397.5,346.8 1399,371.2 1400.6,378.4 1402.1,383.4 1403.7,353.6 1405.2,385.9 1406.8,370.9 1408.3,388.4 1409.9,372.9 1411.4,381.1 1413,376.3 1414.5,372.7 1416.1,348 1417.6,342.9 1419.2,351.9 1420.7,373.5 1422.2,326.7 1423.8,336 1425.3,344 1426.9,353.6 1428.4,351.9 1430,360.4 1431.5,348.3 1433.1,333.1 1434.6,340.2 1436.2,334.9 1437.7,359.6 1439.3,351.2 1440.8,329.9 1442.4,318.2 1443.9,330.6 1445.5,320.9 1447,351.1 1448.6,349.3 1450.1,358.4 1451.7,336 1453.2,308.8 1454.8,321.8 1456.3,368.6 1457.9,340.1 1459.4,325.8 1461,340.3 1462.5,337 1464.1,335.8 1465.6,348.8 1467.2,320.4 1468.7,342.6 1470.3,338.3 1471.8,342.9 1473.4,318.2 1474.9,309.3 1476.5,329.2 1478,319.2 1479.6,323 1481.1,341.9 1482.7,339.1 1484.2,330.9 1485.8,317.9 1487.3,311 1488.9,309.2 1490.4,349.3 1492,326.2 1493.5,339.4 1495.1,329.2 1496.6,344.7 1498.2,370.8 1499.7,340.1 1501.3,342.6 1502.8,380.3 1504.4,345.7 1505.9,340.1 1507.5,344.9 1509,374.6 1510.6,326.5 1512.1,353.5 1513.7,356.5 1515.2,387.2 1516.8,350.8 1518.3,371.5 1519.9,353.7 1521.4,366.9 1523,361.6 1524.5,328.7 1526.1,344 1527.6,350.8 1529.2,357.4 1530.7,352.4 1532.3,363.5 1533.8,371.6 1535.4,343.1 1536.9,362.2 1538.5,359.6 1540,370 1541.6,355.2 1543.1,352.6 1544.7,360.8 1546.2,360.9 1547.8,343.7 1549.3,329.2 1550.9,346.1 1552.4,343.7 1554,356.6 1555.5,328.6 1557.1,286.7 1558.6,335.9 1560.2,326.5 1561.7,300.3 1563.3,319.6 1564.8,320.9 1566.4,307.5 1567.9,320.1 1569.5,310.1 1571,335.2 1572.6,301.1 1574.1,305.9 1575.7,307.4 1577.2,333.3 1578.7,340.3 1580.3,303.2 1581.8,309.7 1583.4,304.7 1584.9,297.8 1586.5,320.4 1588,327.4 1589.6,300.8 1591.1,315.6 1592.7,317.6 1594.2,319.6 1595.8,307.9 1597.3,283.4 1598.9,302.3 1600.4,309.6 1602,329.6 1603.5,308 1605.1,306.1 1606.6,342.3 1608.2,328.4 1609.7,308.4 1611.3,341.5 1612.8,323.1 1614.4,286.2 1615.9,318 1617.5,288.2 1619,283.1 1620.6,314.4 1622.1,289.5 1623.7,317.4 1625.2,258.8 1626.8,310.1 1628.3,284.9 1629.9,280.2 1631.4,273.6 1633,274.8 1634.5,231.6 1636.1,257.3 1637.6,235.3 1639.2,239.8 1640.7,256.8 1642.3,256.8 1643.8,238.5 1645.4,221.8 1646.9,266.5 1648.5,284.6 1650,231.6 1651.6,235.3 1653.1,180.2 1654.7,257.3 1656.2,294 1657.8,290.6 1659.3,281.4 1660.9,301.9 1662.4,335.3 1664,319.7 1665.5,301.1 1667.1,295.8 1668.6,318.5 1670.2,318.3 1671.7,343.2 1673.3,345.9 1674.8,337.5 1676.4,335.7 1677.9,326.8 1679.5,297.6 1681,328.1 1682.6,309.6 1684.1,346.4 1685.7,334.5 1687.2,310.4 1688.8,319.1 1690.3,344.1 1691.9,297.7 1693.4,295.9 1695,326.3 1696.5,304.4 1698.1,309.7 1699.6,308.2 1701.2,319.6 1702.7,311.2 1704.3,264.6 1705.8,285.2 1707.4,290.1 1708.9,287.6 1710.5,317.1 1712,277.9 1713.6,280.3 1715.1,314.2 1716.7,273.6 1718.2,305.3 1719.8,305.7 1721.3,288.7 1722.9,278.2 1724.4,281.7 1726,264.8 1727.5,272 1729.1,292 1730.6,307.9" fill="none" stroke="#87cebf" stroke-width="2.4" stroke-linejoin="miter" stroke-miterlimit="5" clip-path="url(#c3)"/>
<circle cx="1730.6" cy="307.9" r="4.6" fill="#87cebf"/>
<polyline points="1267.3,323.4 1268.8,432.6 1270.4,443.8 1271.9,442.8 1273.5,442.4 1275,443.6 1276.6,453.8 1278.1,466.8 1279.7,461.3 1281.2,449.2 1282.8,449.4 1284.3,447.2 1285.9,438.5 1287.4,428.3 1289,445.9 1290.5,442.4 1292.1,448.4 1293.6,441.2 1295.2,419.3 1296.7,421.5 1298.3,418.4 1299.8,412 1301.4,427.2 1302.9,441 1304.5,430 1306,422.4 1307.6,432.6 1309.1,431.8 1310.7,415.9 1312.2,436.6 1313.8,436.8 1315.3,432.3 1316.9,418 1318.4,414.7 1320,428.1 1321.5,419.8 1323.1,388 1324.6,396.8 1326.2,408.9 1327.7,438.8 1329.3,426.7 1330.8,424.5 1332.4,426.9 1333.9,415.4 1335.5,429.9 1337,437.7 1338.6,427.9 1340.1,441.2 1341.7,424.6 1343.2,424 1344.8,444.2 1346.3,416.8 1347.9,426.4 1349.4,420.9 1351,415.2 1352.5,404.4 1354.1,421.3 1355.6,426.1 1357.2,420.7 1358.7,428.3 1360.3,423.5 1361.8,435.9 1363.4,415.2 1364.9,418.9 1366.5,423.8 1368,424.5 1369.6,417.4 1371.1,429.6 1372.7,437.6 1374.2,427.9 1375.8,424.2 1377.3,409.3 1378.9,436.1 1380.4,429.7 1382,430.5 1383.5,427.5 1385.1,428.4 1386.6,423.8 1388.2,433.1 1389.7,437.6 1391.3,402 1392.8,434.2 1394.4,413.8 1395.9,412 1397.5,427.4 1399,424.5 1400.6,417.3 1402.1,409.1 1403.7,423.7 1405.2,405.8 1406.8,411.7 1408.3,408.4 1409.9,417.5 1411.4,404.3 1413,401.7 1414.5,429.8 1416.1,404.4 1417.6,390.5 1419.2,409 1420.7,371.1 1422.2,392 1423.8,367.4 1425.3,397.5 1426.9,417.5 1428.4,391.4 1430,402.3 1431.5,400.8 1433.1,370.3 1434.6,392.2 1436.2,390.2 1437.7,391.4 1439.3,358 1440.8,365.7 1442.4,384.2 1443.9,377.3 1445.5,363.7 1447,370.6 1448.6,378.3 1450.1,391 1451.7,363 1453.2,384.9 1454.8,390 1456.3,382.8 1457.9,386.2 1459.4,360.1 1461,379.7 1462.5,387.1 1464.1,386.4 1465.6,382.2 1467.2,369.2 1468.7,389.7 1470.3,365.7 1471.8,376.9 1473.4,392.8 1474.9,369.3 1476.5,375 1478,371.7 1479.6,397.7 1481.1,349.1 1482.7,368.5 1484.2,388.8 1485.8,391.4 1487.3,405.9 1488.9,387.9 1490.4,383.7 1492,401 1493.5,388.4 1495.1,379.4 1496.6,388.9 1498.2,394.7 1499.7,387.6 1501.3,393.1 1502.8,364.5 1504.4,387.7 1505.9,384.4 1507.5,380.7 1509,383.8 1510.6,379.2 1512.1,386 1513.7,379.4 1515.2,374 1516.8,380 1518.3,378.3 1519.9,364.9 1521.4,356.9 1523,370.7 1524.5,373 1526.1,367.7 1527.6,372.5 1529.2,396.1 1530.7,373.8 1532.3,361.6 1533.8,358.5 1535.4,359.5 1536.9,369.7 1538.5,386 1540,386 1541.6,376.1 1543.1,348.7 1544.7,386.6 1546.2,363.5 1547.8,360.7 1549.3,377 1550.9,374.9 1552.4,367.2 1554,383.7 1555.5,356.8 1557.1,350.3 1558.6,365.1 1560.2,350.6 1561.7,360.1 1563.3,330 1564.8,346.4 1566.4,365.5 1567.9,350.1 1569.5,353.6 1571,330.7 1572.6,358.6 1574.1,334.3 1575.7,339.3 1577.2,344.7 1578.7,355.5 1580.3,348.3 1581.8,321.3 1583.4,301.3 1584.9,316 1586.5,365.7 1588,343.9 1589.6,349.8 1591.1,347.8 1592.7,356.4 1594.2,349.1 1595.8,338.8 1597.3,355.7 1598.9,358.4 1600.4,370 1602,340.9 1603.5,342.5 1605.1,342.6 1606.6,362.3 1608.2,321.3 1609.7,354.1 1611.3,337.6 1612.8,347.8 1614.4,342.3 1615.9,334.3 1617.5,353.2 1619,354.6 1620.6,352.3 1622.1,328.6 1623.7,350.7 1625.2,366.8 1626.8,353.4 1628.3,365.6 1629.9,359.7 1631.4,357.8 1633,358.4 1634.5,377.3 1636.1,370.5 1637.6,382.2 1639.2,379.4 1640.7,373.4 1642.3,372.3 1643.8,375 1645.4,367.2 1646.9,366.4 1648.5,367.7 1650,378 1651.6,365.4 1653.1,375.6 1654.7,355.8 1656.2,375.3 1657.8,362.8 1659.3,373.9 1660.9,351.1 1662.4,353.7 1664,362.6 1665.5,387.7 1667.1,360.9 1668.6,401.8 1670.2,369.1 1671.7,375.7 1673.3,368.9 1674.8,385.4 1676.4,368.8 1677.9,379.3 1679.5,360.3 1681,351.5 1682.6,379.3 1684.1,401.8 1685.7,379.4 1687.2,380.8 1688.8,363.6 1690.3,355.4 1691.9,381.9 1693.4,389.5 1695,375.9 1696.5,370.9 1698.1,401.8 1699.6,374.9 1701.2,378.1 1702.7,387.4 1704.3,357.9 1705.8,361.6 1707.4,347 1708.9,355.6 1710.5,355.4 1712,356.4 1713.6,369.7 1715.1,349.2 1716.7,349 1718.2,362.1 1719.8,329.2 1721.3,354.5 1722.9,378 1724.4,347.7 1726,338.3 1727.5,350.6 1729.1,336.2 1730.6,365.9" fill="none" stroke="#835cd6" stroke-width="2.9" stroke-linejoin="miter" stroke-miterlimit="5" clip-path="url(#c3)"/>
<circle cx="1730.6" cy="365.9" r="4.6" fill="#835cd6"/>
<polyline points="1267.3,330.7 1268.8,427.6 1270.4,461.7 1271.9,454.9 1273.5,454.3 1275,448.9 1276.6,446.2 1278.1,452.4 1279.7,454.3 1281.2,466.1 1282.8,455.2 1284.3,450.8 1285.9,461.9 1287.4,444.5 1289,452.1 1290.5,460.1 1292.1,458.2 1293.6,460.7 1295.2,446.2 1296.7,450.5 1298.3,450.6 1299.8,444.1 1301.4,450.2 1302.9,438.7 1304.5,442.6 1306,447.1 1307.6,436.2 1309.1,440.4 1310.7,451.3 1312.2,438.2 1313.8,453 1315.3,457.9 1316.9,445.8 1318.4,421.5 1320,422.1 1321.5,426.5 1323.1,438.7 1324.6,434.2 1326.2,459 1327.7,440.8 1329.3,448.1 1330.8,439.7 1332.4,437.8 1333.9,423 1335.5,448.7 1337,445.6 1338.6,441.7 1340.1,441 1341.7,432.5 1343.2,450 1344.8,427.4 1346.3,445.1 1347.9,450.1 1349.4,447 1351,448.3 1352.5,443.1 1354.1,454.9 1355.6,437.2 1357.2,439.4 1358.7,443.9 1360.3,456.5 1361.8,457 1363.4,451.5 1364.9,455.8 1366.5,444.5 1368,456.7 1369.6,437.3 1371.1,443.1 1372.7,435 1374.2,448.7 1375.8,444.1 1377.3,448.9 1378.9,454 1380.4,453.6 1382,428.5 1383.5,437.2 1385.1,449 1386.6,446 1388.2,443.7 1389.7,444.9 1391.3,417.7 1392.8,449.1 1394.4,427.4 1395.9,433.9 1397.5,425.5 1399,432.4 1400.6,413.4 1402.1,432.8 1403.7,426.3 1405.2,421.9 1406.8,430.2 1408.3,401.9 1409.9,424.2 1411.4,423.1 1413,412.4 1414.5,407.3 1416.1,410.6 1417.6,418.3 1419.2,412.7 1420.7,403.1 1422.2,392.2 1423.8,400.4 1425.3,410.3 1426.9,425 1428.4,406.8 1430,403 1431.5,418.9 1433.1,403.5 1434.6,402.1 1436.2,411.6 1437.7,400.1 1439.3,397 1440.8,411.2 1442.4,403.6 1443.9,424.5 1445.5,377.3 1447,405.2 1448.6,396.8 1450.1,419.5 1451.7,403.8 1453.2,417 1454.8,403.4 1456.3,398.4 1457.9,394.3 1459.4,411.3 1461,405.2 1462.5,385.8 1464.1,393.2 1465.6,410.1 1467.2,405.6 1468.7,405.2 1470.3,383.3 1471.8,400.4 1473.4,391.8 1474.9,411.7 1476.5,386.9 1478,394.2 1479.6,399.8 1481.1,410 1482.7,398.4 1484.2,397.4 1485.8,403.8 1487.3,396.1 1488.9,385.9 1490.4,383 1492,394.1 1493.5,407.5 1495.1,409.4 1496.6,370.7 1498.2,405.7 1499.7,392.3 1501.3,390.5 1502.8,392.8 1504.4,387.4 1505.9,395.2 1507.5,394.1 1509,395.7 1510.6,365 1512.1,369 1513.7,386.1 1515.2,405.9 1516.8,398.2 1518.3,390.5 1519.9,402.2 1521.4,406 1523,389.6 1524.5,392.8 1526.1,387.9 1527.6,384.9 1529.2,388.1 1530.7,388 1532.3,399.8 1533.8,393.1 1535.4,375.5 1536.9,372.9 1538.5,408.9 1540,388.2 1541.6,378.3 1543.1,381.5 1544.7,382.3 1546.2,387.9 1547.8,373.8 1549.3,368.7 1550.9,280.1 1552.4,330.7 1554,375 1555.5,358.9 1557.1,345.7 1558.6,372.9 1560.2,341.7 1561.7,365.9 1563.3,337.6 1564.8,335.9 1566.4,376.4 1567.9,343.8 1569.5,342.2 1571,329.3 1572.6,331.4 1574.1,314.7 1575.7,369 1577.2,356.9 1578.7,325.3 1580.3,320 1581.8,336 1583.4,283 1584.9,286.7 1586.5,345.6 1588,320.6 1589.6,324.8 1591.1,347.9 1592.7,322.3 1594.2,321.4 1595.8,300.9 1597.3,320.3 1598.9,351.3 1600.4,337.1 1602,356.5 1603.5,318.7 1605.1,341.6 1606.6,340.8 1608.2,322 1609.7,348.3 1611.3,350.4 1612.8,354.2 1614.4,326.1 1615.9,345.2 1617.5,332.7 1619,340.7 1620.6,334.7 1622.1,320.7 1623.7,349.9 1625.2,341.6 1626.8,334.9 1628.3,328.5 1629.9,342.9 1631.4,330.7 1633,338.7 1634.5,322.6 1636.1,368.3 1637.6,350.9 1639.2,361.3 1640.7,364.9 1642.3,373.8 1643.8,361.3 1645.4,366.2 1646.9,360.5 1648.5,368.4 1650,353.7 1651.6,354.5 1653.1,348.9 1654.7,352.3 1656.2,362.3 1657.8,374.5 1659.3,350.3 1660.9,377.1 1662.4,364.2 1664,348.1 1665.5,363.9 1667.1,382.8 1668.6,363 1670.2,363.3 1671.7,341.5 1673.3,371.9 1674.8,347.6 1676.4,379.9 1677.9,343.8 1679.5,360.4 1681,361.8 1682.6,349.9 1684.1,341.5 1685.7,329.7 1687.2,321.8 1688.8,328.9 1690.3,308.4 1691.9,320.9 1693.4,309.6 1695,296.9 1696.5,325.8 1698.1,333 1699.6,313.2 1701.2,302.2 1702.7,324.4 1704.3,279.3 1705.8,341.3 1707.4,297.2 1708.9,319.5 1710.5,286.6 1712,303.6 1713.6,318.1 1715.1,295.8 1716.7,303.4 1718.2,303.9 1719.8,302.3 1721.3,322.5 1722.9,275.7 1724.4,269 1726,297.9 1727.5,337.4 1729.1,321.3 1730.6,287" fill="none" stroke="#5bc5db" stroke-width="2.9" stroke-linejoin="miter" stroke-miterlimit="5" clip-path="url(#c3)"/>
<circle cx="1730.6" cy="287.0" r="4.6" fill="#5bc5db"/>
<polyline points="1267.3,341.7 1268.8,456.8 1270.4,467.5 1271.9,454.9 1273.5,451.6 1275,456.7 1276.6,454.3 1278.1,472.9 1279.7,457.2 1281.2,476.3 1282.8,462.8 1284.3,470 1285.9,446.8 1287.4,458.7 1289,463.4 1290.5,465.8 1292.1,461.6 1293.6,469.2 1295.2,447.5 1296.7,464.1 1298.3,467.3 1299.8,454.1 1301.4,460.2 1302.9,449.8 1304.5,451.1 1306,463.6 1307.6,452.6 1309.1,469.4 1310.7,453.1 1312.2,451.3 1313.8,442.1 1315.3,454.1 1316.9,455.7 1318.4,462.7 1320,448.9 1321.5,457.5 1323.1,454.8 1324.6,453.5 1326.2,450.7 1327.7,469 1329.3,449.5 1330.8,455.9 1332.4,464.6 1333.9,459 1335.5,450.6 1337,453.6 1338.6,444.5 1340.1,448.9 1341.7,447.1 1343.2,446.7 1344.8,448.8 1346.3,441 1347.9,431.7 1349.4,438.6 1351,441.3 1352.5,421.3 1354.1,425.4 1355.6,424.6 1357.2,429.6 1358.7,405.6 1360.3,421.5 1361.8,445.5 1363.4,431.5 1364.9,427.7 1366.5,432.8 1368,433.4 1369.6,431.6 1371.1,434 1372.7,438.6 1374.2,438.7 1375.8,441.1 1377.3,433.3 1378.9,442.8 1380.4,426.3 1382,426.3 1383.5,437.8 1385.1,429.1 1386.6,438.2 1388.2,447 1389.7,437.5 1391.3,434.3 1392.8,443.5 1394.4,438.9 1395.9,438.1 1397.5,438.8 1399,430 1400.6,444.5 1402.1,437.4 1403.7,423.4 1405.2,435.3 1406.8,427.9 1408.3,427.1 1409.9,431.8 1411.4,421.3 1413,428.3 1414.5,414.8 1416.1,425.7 1417.6,434.9 1419.2,410.6 1420.7,419.6 1422.2,414.4 1423.8,394.4 1425.3,411.1 1426.9,400.3 1428.4,412.7 1430,404.7 1431.5,411 1433.1,384.9 1434.6,386.1 1436.2,406 1437.7,404 1439.3,411.2 1440.8,389.3 1442.4,387.1 1443.9,377.7 1445.5,394.4 1447,393.1 1448.6,383.3 1450.1,394.8 1451.7,387.6 1453.2,398.2 1454.8,382 1456.3,383 1457.9,388.1 1459.4,411.8 1461,410 1462.5,378.1 1464.1,391 1465.6,386.3 1467.2,401.9 1468.7,384.8 1470.3,393.4 1471.8,401.9 1473.4,388.3 1474.9,372.4 1476.5,396.7 1478,386.4 1479.6,380.3 1481.1,402.1 1482.7,394.6 1484.2,369.1 1485.8,377.9 1487.3,377.2 1488.9,371.4 1490.4,357.9 1492,395.5 1493.5,394.3 1495.1,375.8 1496.6,359.9 1498.2,377.4 1499.7,389 1501.3,378.5 1502.8,361.2 1504.4,372.5 1505.9,379.4 1507.5,369.6 1509,363 1510.6,373.1 1512.1,368.8 1513.7,370.8 1515.2,376.4 1516.8,356.1 1518.3,390.8 1519.9,378 1521.4,382.1 1523,386.2 1524.5,384.4 1526.1,386.8 1527.6,369.7 1529.2,374.7 1530.7,371.9 1532.3,360.6 1533.8,358.5 1535.4,348.4 1536.9,362.9 1538.5,345 1540,372.7 1541.6,363.8 1543.1,363.5 1544.7,378.7 1546.2,372.7 1547.8,371.5 1549.3,299.9 1550.9,330.7 1552.4,383.4 1554,391.4 1555.5,399 1557.1,398.3 1558.6,404.4 1560.2,400.9 1561.7,420.1 1563.3,408.1 1564.8,407.5 1566.4,383.3 1567.9,414.4 1569.5,393.5 1571,392.9 1572.6,387.8 1574.1,389.6 1575.7,409.3 1577.2,405.2 1578.7,388.4 1580.3,408.2 1581.8,396.7 1583.4,385.2 1584.9,397.8 1586.5,389.1 1588,385.8 1589.6,400.9 1591.1,386.7 1592.7,403.3 1594.2,399.2 1595.8,393.2 1597.3,393.4 1598.9,390.9 1600.4,407.5 1602,394.5 1603.5,386.4 1605.1,391 1606.6,385.2 1608.2,408.2 1609.7,388.2 1611.3,386.5 1612.8,386.5 1614.4,398.4 1615.9,391.5 1617.5,371.1 1619,382.5 1620.6,383.3 1622.1,402.3 1623.7,399 1625.2,390.5 1626.8,408.3 1628.3,393.1 1629.9,378.2 1631.4,388.9 1633,389.5 1634.5,375.6 1636.1,372.7 1637.6,376.8 1639.2,380.8 1640.7,370.3 1642.3,385.6 1643.8,380.3 1645.4,382.9 1646.9,383 1648.5,386.2 1650,383.1 1651.6,391.4 1653.1,381.8 1654.7,381.2 1656.2,387.8 1657.8,386.3 1659.3,378.8 1660.9,377.4 1662.4,361.7 1664,378.3 1665.5,374.7 1667.1,386.3 1668.6,369.2 1670.2,374.3 1671.7,399.4 1673.3,392 1674.8,365.3 1676.4,361.2 1677.9,369.1 1679.5,354.2 1681,368.4 1682.6,387.2 1684.1,407.8 1685.7,385.5 1687.2,341.7 1688.8,371.3 1690.3,379.2 1691.9,380.6 1693.4,384.7 1695,410 1696.5,376.3 1698.1,371.9 1699.6,384.8 1701.2,358.5 1702.7,338 1704.3,381 1705.8,386.9 1707.4,373 1708.9,367 1710.5,370 1712,359.7 1713.6,367.2 1715.1,367 1716.7,363.2 1718.2,375.9 1719.8,382.1 1721.3,393.4 1722.9,401.2 1724.4,378.9 1726,366.5 1727.5,382.1 1729.1,345.4 1730.6,401.2" fill="none" stroke="#e57439" stroke-width="2.9" stroke-linejoin="miter" stroke-miterlimit="5" clip-path="url(#c3)"/>
<circle cx="1730.6" cy="401.2" r="4.6" fill="#e57439"/>
</svg></body></html>
